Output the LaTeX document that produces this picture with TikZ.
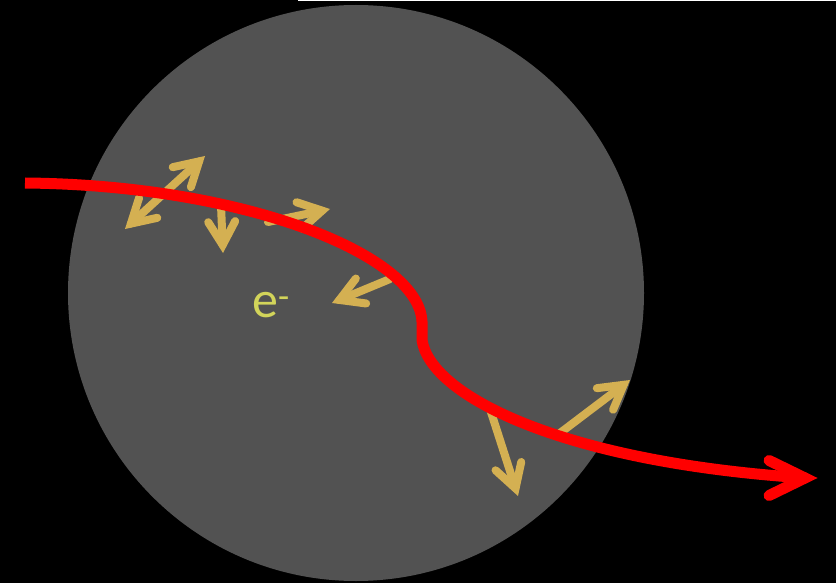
\documentclass[tikz,border=0pt]{standalone}
\usepackage{fontspec}
\setmainfont{Carlito}
\usetikzlibrary{calc}
\definecolor{gold}{HTML}{D4B052}
\definecolor{disc}{HTML}{525252}
\definecolor{elec}{HTML}{D2D45A}
\tikzset{
  goldline/.style={draw=gold, line width=8pt, line cap=round},
  redline/.style={draw=red, line width=11pt},
}
% #1 tail, #2 visible tip, #3 name for vertex
\newcommand{\ghead}[3]{%
  \coordinate (#3) at ($(#2)!8pt!(#1)$);
  \draw[goldline, line join=miter] ($(#3)!27pt!30:(#1)$) -- (#3) -- ($(#3)!27pt!-30:(#1)$);}
\begin{document}
\begin{tikzpicture}[x=1pt,y=-1pt]
  \fill[black] (0,0) rectangle (836,583);
  \useasboundingbox (0,0) rectangle (836,583);
  \fill[white] (298,0) rectangle (836,1.5);
  \fill[disc] (356,293) circle (288);

  % gold arrows
  \coordinate (a1) at (125,229);
  \coordinate (b1) at (205,156);
  \ghead{b1}{a1}{va1}
  \ghead{a1}{b1}{vb1}
  \draw[goldline] (va1) -- (vb1);

  \coordinate (a2) at (221,205);
  \coordinate (b2) at (223,253);
  \ghead{a2}{b2}{vb2}
  \draw[goldline] (a2) -- (vb2);

  \coordinate (a3) at (268,222);
  \coordinate (b3) at (330,209);
  \ghead{a3}{b3}{vb3}
  \draw[goldline] (a3) -- (vb3);

  \coordinate (a4) at (390,279);
  \coordinate (b4) at (332,303);
  \ghead{a4}{b4}{vb4}
  \draw[goldline] (a4) -- (vb4);

  \coordinate (a5) at (490,409);
  \coordinate (b5) at (518,496);
  \ghead{a5}{b5}{vb5}
  \draw[goldline] (a5) -- (vb5);

  \coordinate (a6) at (560,433);
  \coordinate (b6) at (630,380);
  \ghead{a6}{b6}{vb6}
  \draw[goldline] (a6) -- (vb6);

  % red trajectory
  \coordinate (r0) at (25,183);
  \coordinate (r1) at (422,325);
  \coordinate (r2) at (422,340);
  \coordinate (r3) at (806,478);
  \coordinate (rt) at (805,478);
  \coordinate (back) at (700,478);
  \draw[redline, line cap=butt] (r0) .. controls (250,185) and (425,258) .. (r1)
     -- (r2) .. controls (430,395) and (560,462) .. (r3);
  \draw[redline, line cap=round, line join=miter]
     ($(rt)!40pt!26:(back)$) -- (rt) -- ($(rt)!40pt!-26:(back)$);

  \node[text=elec, font=\fontsize{52}{52}\selectfont, inner sep=0pt] (e) at (271,305) {e\textsuperscript{-}};
\end{tikzpicture}
\end{document}
